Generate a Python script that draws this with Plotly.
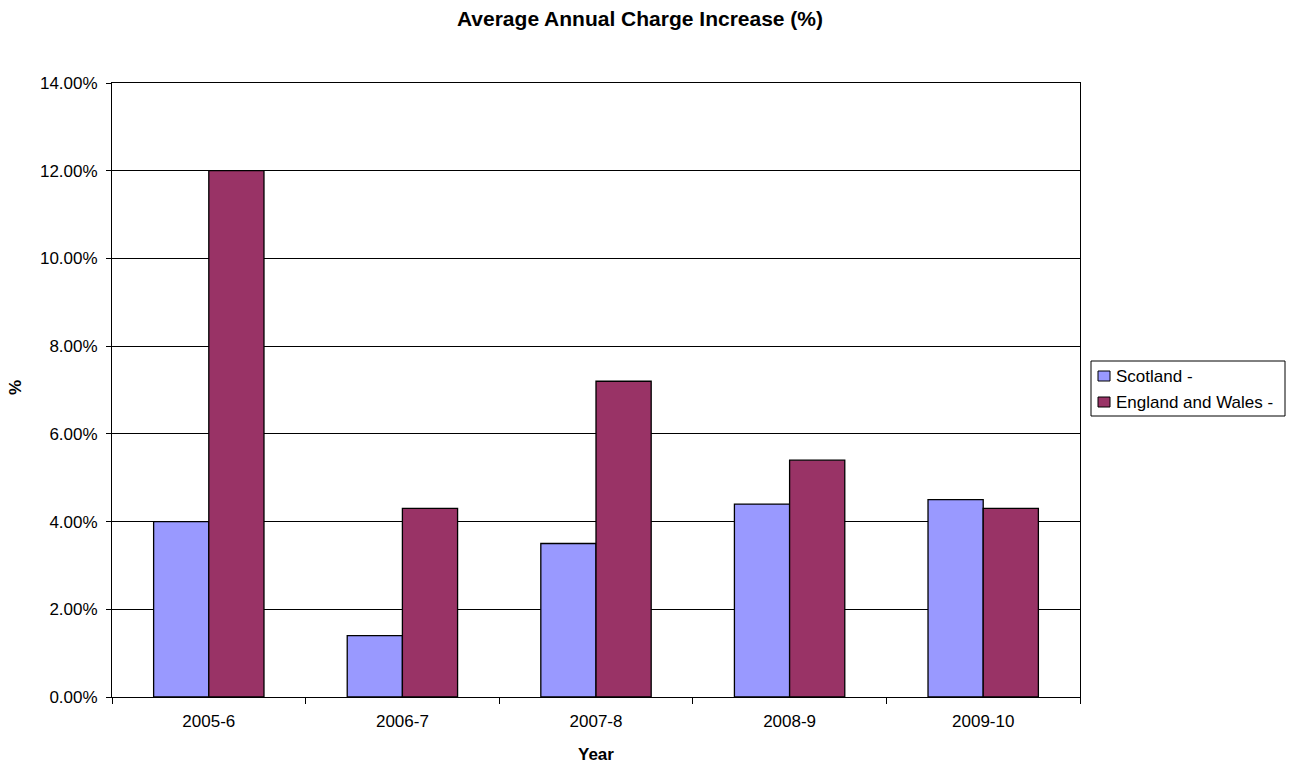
import plotly.graph_objects as go

# Annual charge increase by financial year
years = ["2005-6", "2006-7", "2007-8", "2008-9", "2009-10"]
scotland = [4.0, 1.4, 3.5, 4.4, 4.5]
england_wales = [12.0, 4.3, 7.2, 5.4, 4.3]
y_ticks = [0, 2, 4, 6, 8, 10, 12, 14]
series_names = ["Scotland -", "England and Wales -"]
series_colors = ["#9999FF", "#993366"]

FONT = "Liberation Sans, Arial, sans-serif"
W, H = 1296, 765
L, R, T, B = 112, 216, 83, 68
PW, PH = W - L - R, H - T - B


def px_x(x):
    return (x - L) / PW


def px_y(y):
    return (H - B - y) / PH


fig = go.Figure()
for name, vals, col in zip(series_names, [scotland, england_wales], series_colors):
    fig.add_trace(go.Bar(
        name=name, x=years, y=vals,
        marker=dict(color=col, line=dict(color="black", width=1.3)),
    ))

fig.update_layout(
    width=W, height=H,
    margin=dict(l=L, r=R, t=T, b=B),
    paper_bgcolor="white", plot_bgcolor="white",
    font=dict(family=FONT, size=17, color="black"),
    barmode="group", bargap=0.43, bargroupgap=0,
    showlegend=False,
    title=dict(text="<b>Average Annual Charge Increase (%)</b>",
               x=640 / W, xref="container", xanchor="center",
               y=1 - 19 / H, yref="container", yanchor="middle",
               font=dict(family=FONT, size=21)),
)

fig.update_xaxes(
    type="category", tickson="boundaries", automargin=False,
    ticks="outside", ticklen=6, tickcolor="black",
    ticklabelstandoff=9,
    showline=True, linecolor="black", linewidth=1, mirror=True,
    showgrid=False,
)
fig.update_yaxes(
    range=[0, 14], tickvals=y_ticks, automargin=False,
    ticktext=[f"{v:.2f}%" for v in y_ticks],
    ticks="outside", ticklen=5, tickcolor="black",
    ticklabelstandoff=5,
    showline=True, linecolor="black", linewidth=1, mirror=True,
    showgrid=True, gridcolor="black", gridwidth=1,
    zeroline=False,
)

# Axis titles
fig.add_annotation(text="<b>Year</b>", xref="paper", yref="paper",
                   x=0.5, y=px_y(754), xanchor="center", yanchor="middle",
                   showarrow=False, font=dict(family=FONT, size=17))
fig.add_annotation(text="<b>%</b>", xref="paper", yref="paper",
                   x=px_x(15), y=px_y(388), xanchor="center", yanchor="middle",
                   textangle=-90, showarrow=False, font=dict(family=FONT, size=17))

# Legend box drawn beside the plot area
fig.add_shape(type="rect", xref="paper", yref="paper",
              x0=px_x(1091), x1=px_x(1285), y0=px_y(416), y1=px_y(361),
              line=dict(color="black", width=1), fillcolor="white")
for i, (name, col) in enumerate(zip(series_names, series_colors)):
    cy = 376 + i * 26
    fig.add_shape(type="rect", xref="paper", yref="paper",
                  x0=px_x(1098), x1=px_x(1110), y0=px_y(cy + 5), y1=px_y(cy - 5),
                  line=dict(color="black", width=1), fillcolor=col)
    fig.add_annotation(text=name, xref="paper", yref="paper",
                       x=px_x(1114), y=px_y(cy), xanchor="left", yanchor="middle",
                       showarrow=False, font=dict(family=FONT, size=17))

fig.write_html("out.html")
